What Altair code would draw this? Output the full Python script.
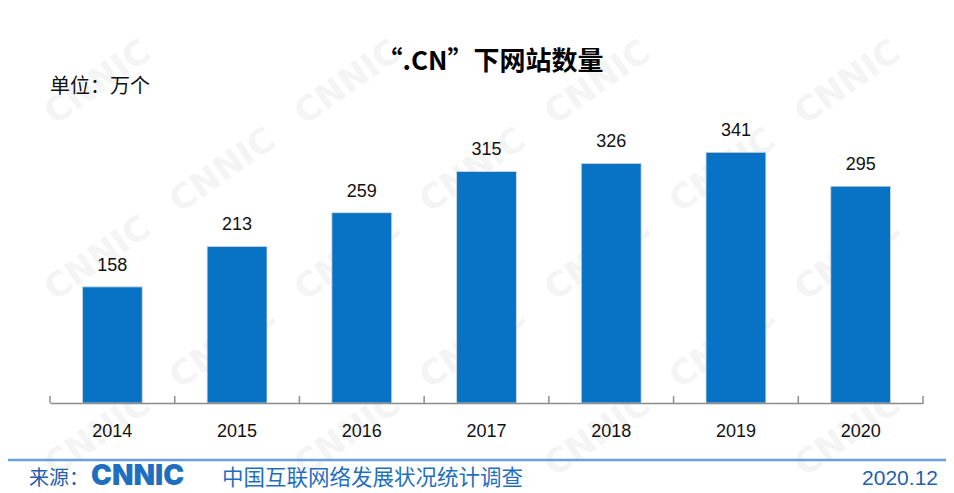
import altair as alt
import pandas as pd

years = ["2014", "2015", "2016", "2017", "2018", "2019", "2020"]
counts = [158, 213, 259, 315, 326, 341, 295]

title_text = "“.CN”下网站数量"
unit_text = "单位：万个"
source_label = "来源："
source_logo = "CNNIC"
source_name = "中国互联网络发展状况统计调查"
date_text = "2020.12"

BLUE = "#0873c4"
FONT = "Liberation Sans"
CJK = "Noto Sans CJK SC"

df = pd.DataFrame({"year": years, "count": counts})
last = pd.DataFrame({"year": [years[-1]]})

# decorative watermark grid (kept inside the canvas)
wm_rows = []
for r in range(0, 5):
    for c in range(0, 4):
        wx = c * 250 + (r % 2) * 125 + 90
        if wx <= 860:
            wm_rows.append({"wx": wx, "wy": r * 88 + 75})
wm = pd.DataFrame(wm_rows)

W, H = 938, 395
X0, X1 = 42, 915
PAD_IN = 0.52
STEP = (X1 - X0) / len(years)
HALF_GAP = STEP * PAD_IN / 2

xscale = alt.Scale(domain=years, range=[X0, X1], paddingInner=PAD_IN, paddingOuter=PAD_IN / 2)
yscale = alt.Scale(domain=[0, 400], range=[H, H - 294])

watermark = alt.Chart(wm).mark_text(
    text="CNNIC", font="DejaVu Sans", fontWeight="bold", fontSize=34,
    angle=325, color="#f4f4f4"
).encode(
    x=alt.X("wx:Q", scale=None, axis=None),
    y=alt.Y("wy:Q", scale=None, axis=None),
)

base = alt.Chart(df)

bars = base.mark_bar(color=BLUE, stroke="#dcdcdc", strokeWidth=0.8).encode(
    x=alt.X("year:N", scale=xscale, sort=years,
            axis=alt.Axis(title=None, labelAngle=0, labelFont=FONT, labelFontSize=18,
                          labelColor="#111111", labelPadding=19, ticks=False, zindex=2,
                          domainColor="#8c8c8c", domainWidth=1.5, grid=False)),
    y=alt.Y("count:Q", scale=yscale, axis=None),
)

labels = base.mark_text(font=FONT, fontSize=18, color="#111111", baseline="bottom", dy=-12).encode(
    x=alt.X("year:N", scale=xscale, sort=years),
    y=alt.Y("count:Q", scale=yscale),
    text="count:Q",
)

edge_start = base.mark_rule(color="#8c8c8c", strokeWidth=1.5, xOffset=-HALF_GAP).encode(
    x=alt.X("year:N", scale=xscale, sort=years, bandPosition=0),
    y=alt.value(H), y2=alt.value(H - 7),
)
edge_end = alt.Chart(last).mark_rule(color="#8c8c8c", strokeWidth=1.5, xOffset=HALF_GAP).encode(
    x=alt.X("year:N", scale=xscale, sort=years, bandPosition=1),
    y=alt.value(H), y2=alt.value(H - 7),
)


def txt(s, x, y, size, color, weight="normal", font=CJK, align="left"):
    return alt.Chart(pd.DataFrame({"t": [s]})).mark_text(
        fontSize=size, color=color, fontWeight=weight, font=font, align=align, baseline="middle"
    ).encode(text="t:N", x=alt.value(x), y=alt.value(y))


title = txt(title_text, 482, 54, 26, "#000000", weight="bold", align="center")
unit = txt(unit_text, 42, 79, 20, "#111111")
src1 = txt(source_label, 21, 471, 20, "#1f5fae")
logo = txt(source_logo, 83, 469, 28, "#1f6fc1", weight=900, font="Inter")
src2 = txt(source_name, 214, 471, 21.5, "#1f6fc1")
date = txt(date_text, 930, 471, 21, "#1f5fae", font=FONT, align="right")

footer_line = alt.Chart(pd.DataFrame({"a": [0]})).mark_rule(color="#6a9fdc", strokeWidth=2.5).encode(
    x=alt.value(-8), x2=alt.value(946), y=alt.value(452)
)

chart = alt.layer(
    watermark, bars, labels, edge_start, edge_end, footer_line, title, unit, src1, logo, src2, date
).properties(
    width=W, height=H,
    background="white",
    autosize=alt.AutoSizeParams(type="none"),
    padding={"left": 0, "top": 0, "right": 0, "bottom": 90},
).configure_view(stroke=None, strokeWidth=0)

chart.save("out.html", embed_options={"renderer": "svg", "actions": False})
